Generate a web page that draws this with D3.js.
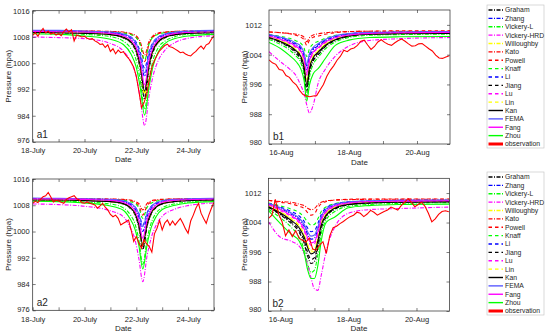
<!DOCTYPE html>
<html>
<head>
<meta charset="utf-8">
<script src="https://d3js.org/d3.v7.min.js"></script>
<style>
  body { margin: 0; background: #fff; }
  text { font-family: "Liberation Sans", Arial, sans-serif; fill: #262626; }
</style>
</head>
<body>
<script>
// series names in legend order, observation last
var names = ["Graham", "Zhang", "Vickery-L", "Vickery-HRD", "Willoughby", "Kato", "Powell", "Knaff",
             "Li", "Jiang", "Lu", "Lin", "Kan", "FEMA", "Fang", "Zhou", "observation"];

// time axes (days since 18-July 00:00 for a, since 16-Aug 00:00 for b)
var tA1 = [0, 1, 2, 3, 3.5, 3.8, 4.0, 4.15, 4.32, 4.5, 4.65, 4.85, 5.1, 5.5, 6, 7];
var tA2 = [0, 1, 2, 3, 3.5, 3.75, 3.95, 4.1, 4.25, 4.42, 4.57, 4.77, 5.0, 5.45, 6, 7];
var tB1 = [-0.35, 0, 0.25, 0.45, 0.58, 0.68, 0.76, 0.84, 0.95, 1.1, 1.3, 1.6, 2.0, 2.6, 3.5, 4.97];
var tB2 = [-0.35, 0, 0.3, 0.55, 0.7, 0.8, 0.9, 1.0, 1.1, 1.2, 1.35, 1.6, 2.0, 2.6, 3.5, 4.97];

var aTicks = [0, 1, 2, 3, 4, 5, 6, 7];
var aTickLabels = ["18-July", "", "20-July", "", "22-July", "", "24-July", ""];
var bTicks = [0, 1, 2, 3, 4];
var bTickLabels = ["16-Aug", "", "18-Aug", "", "20-Aug"];
var aPressTicks = [976, 984, 992, 1000, 1008, 1016];
var bPressTicks = [980, 988, 996, 1004, 1012];

// model pressures, one row per model in legend order
var a1Models = [
  [1009.5,1009.4,1009.2,1008.7,1007.7,1006.1,1003.2,998.1,989.0,998.7,1003.4,1006.3,1007.7,1008.7,1009.1,1009.4],
  [1009.7,1009.7,1009.5,1009.2,1008.6,1007.5,1005.5,1002.1,996.0,1002.5,1005.7,1007.6,1008.6,1009.2,1009.5,1009.7],
  [1009.3,1009.2,1008.8,1008.1,1006.7,1004.3,1000.8,994.9,986.0,995.4,1001.0,1004.8,1006.7,1008.1,1008.8,1009.2],
  [1008.0,1007.8,1007.5,1006.0,1003.7,1000.2,995.9,989.3,981.0,990.4,996.2,1000.9,1003.9,1006.3,1007.6,1008.4],
  [1009.5,1009.4,1009.2,1008.8,1007.9,1006.4,1003.8,999.2,991.0,999.7,1004.0,1006.6,1007.9,1008.8,1009.2,1009.4],
  [1009.9,1009.8,1009.8,1009.7,1009.5,1009.0,1008.3,1006.6,1002.5,1006.8,1008.4,1009.2,1009.5,1009.7,1009.8,1009.9],
  [1009.9,1009.8,1009.8,1009.6,1009.3,1008.8,1007.8,1005.7,1000.5,1006.0,1008.0,1009.0,1009.4,1009.7,1009.8,1009.9],
  [1009.7,1009.6,1009.6,1009.4,1009.2,1008.7,1007.8,1005.8,1001.0,1006.0,1008.0,1008.8,1009.3,1009.5,1009.6,1009.7],
  [1009.7,1009.7,1009.6,1009.3,1008.8,1007.9,1006.3,1003.5,998.5,1003.8,1006.4,1008.0,1008.8,1009.3,1009.6,1009.7],
  [1009.5,1009.4,1009.2,1008.7,1007.8,1006.3,1003.5,998.6,990.0,999.2,1003.7,1006.5,1007.8,1008.7,1009.2,1009.4],
  [1009.4,1009.3,1009.2,1008.7,1008.0,1006.6,1004.2,1000.0,992.5,1000.5,1004.4,1006.8,1008.0,1008.7,1009.1,1009.3],
  [1009.5,1009.4,1009.2,1008.7,1007.9,1006.4,1003.7,998.9,990.5,999.5,1003.9,1006.5,1007.9,1008.7,1009.2,1009.4],
  [1009.4,1009.3,1009.1,1008.7,1007.9,1006.4,1003.9,999.4,991.5,1000.0,1004.1,1006.6,1007.9,1008.7,1009.1,1009.3],
  [1010.0,1010.0,1009.8,1009.5,1008.9,1007.9,1006.0,1002.8,997.0,1003.2,1006.2,1008.0,1008.9,1009.5,1009.8,1010.0],
  [1009.7,1009.6,1009.5,1009.1,1008.3,1007.0,1004.7,1000.7,993.5,1001.2,1004.9,1007.2,1008.3,1009.1,1009.4,1009.6],
  [1009.0,1008.8,1008.3,1007.3,1005.7,1002.7,998.7,992.7,984.2,993.2,999.2,1003.5,1006.0,1007.5,1008.3,1008.8]
];
var a2Models = [
  [1009.7,1009.6,1009.5,1009.1,1008.4,1007.2,1005.1,1001.2,994.5,1001.7,1005.2,1007.4,1008.4,1009.1,1009.5,1009.6],
  [1010.0,1009.9,1009.8,1009.6,1009.1,1008.3,1006.9,1004.4,1000.0,1004.7,1007.0,1008.4,1009.1,1009.6,1009.8,1009.9],
  [1009.5,1009.3,1009.0,1008.4,1007.2,1005.3,1002.3,997.4,990.0,997.8,1002.5,1005.7,1007.2,1008.4,1009.0,1009.4],
  [1008.4,1008.2,1007.7,1006.3,1004.5,1001.4,997.5,991.7,984.7,992.8,997.9,1002.0,1004.6,1006.7,1007.9,1008.7],
  [1009.7,1009.7,1009.5,1009.2,1008.5,1007.4,1005.4,1001.8,995.5,1002.2,1005.5,1007.5,1008.5,1009.2,1009.5,1009.7],
  [1010.0,1010.0,1010.0,1009.9,1009.8,1009.6,1009.2,1008.5,1006.6,1008.6,1009.3,1009.7,1009.8,1009.9,1010.0,1010.0],
  [1010.0,1010.0,1009.9,1009.8,1009.7,1009.4,1008.9,1007.8,1005.0,1007.9,1009.0,1009.5,1009.7,1009.9,1009.9,1010.0],
  [1009.8,1009.8,1009.7,1009.6,1009.5,1009.1,1008.5,1007.2,1004.0,1007.4,1008.6,1009.2,1009.5,1009.7,1009.7,1009.8],
  [1010.0,1009.9,1009.8,1009.6,1009.3,1008.6,1007.5,1005.5,1002.0,1005.8,1007.6,1008.7,1009.3,1009.6,1009.8,1009.9],
  [1009.7,1009.7,1009.5,1009.1,1008.5,1007.3,1005.2,1001.5,995.0,1002.0,1005.4,1007.4,1008.5,1009.1,1009.5,1009.7],
  [1009.6,1009.6,1009.4,1009.1,1008.6,1007.5,1005.8,1002.6,997.0,1003.0,1005.9,1007.7,1008.6,1009.1,1009.4,1009.6],
  [1009.7,1009.6,1009.5,1009.1,1008.5,1007.4,1005.4,1001.9,995.8,1002.3,1005.5,1007.5,1008.5,1009.1,1009.5,1009.7],
  [1009.6,1009.6,1009.4,1009.1,1008.5,1007.4,1005.5,1002.0,996.0,1002.4,1005.6,1007.5,1008.5,1009.1,1009.4,1009.6],
  [1010.2,1010.1,1010.0,1009.8,1009.4,1008.7,1007.5,1005.3,1001.5,1005.6,1007.6,1008.8,1009.4,1009.8,1010.0,1010.1],
  [1009.9,1009.9,1009.8,1009.5,1008.9,1008.0,1006.3,1003.3,998.0,1003.6,1006.4,1008.1,1008.9,1009.5,1009.7,1009.9],
  [1009.2,1009.1,1008.7,1007.8,1006.5,1004.0,1000.7,995.7,988.6,996.1,1001.1,1004.6,1006.7,1007.9,1008.7,1009.1]
];
var b1Models = [
  [1008.5,1007.2,1005.9,1004.3,1002.7,999.6,994.0,999.1,1002.3,1004.0,1006.1,1007.8,1008.9,1009.5,1009.7,1009.8],
  [1009.2,1008.4,1007.6,1006.6,1005.6,1003.5,1000.0,1003.2,1005.3,1006.4,1007.7,1008.8,1009.5,1009.8,1010.0,1010.1],
  [1008.1,1006.7,1005.3,1003.6,1001.9,998.5,992.5,998.0,1001.4,1003.3,1005.5,1007.4,1008.6,1009.2,1009.4,1009.5],
  [1004.8,1002.0,1000.2,998.3,995.8,993.5,990.5,988.3,990.5,996.5,1000.0,1003.6,1006.3,1007.8,1008.3,1008.6],
  [1008.7,1007.7,1006.7,1005.4,1004.1,1001.5,997.0,1001.1,1003.7,1005.1,1006.8,1008.2,1009.1,1009.6,1009.7,1009.8],
  [1010.1,1009.9,1009.7,1009.5,1009.2,1008.7,1007.5,1008.6,1009.3,1009.6,1009.9,1010.1,1010.2,1010.3,1010.3,1010.3],
  [1010.1,1009.9,1009.6,1009.2,1008.7,1008.0,1006.5,1007.9,1008.7,1009.0,1009.5,1009.9,1010.2,1010.3,1010.4,1010.4],
  [1009.4,1008.9,1008.4,1007.7,1007.1,1005.8,1003.5,1005.6,1006.9,1007.6,1008.4,1009.2,1009.6,1009.8,1009.9,1010.0],
  [1009.3,1008.6,1007.8,1006.9,1006.0,1004.2,1001.0,1004.0,1005.7,1006.7,1007.9,1008.9,1009.6,1009.9,1010.0,1010.1],
  [1008.6,1007.4,1006.2,1004.7,1003.2,1000.2,995.0,999.8,1002.7,1004.4,1006.3,1008.0,1009.0,1009.5,1009.7,1009.8],
  [1008.9,1008.0,1007.0,1005.9,1004.8,1002.5,998.5,1002.1,1004.4,1005.7,1007.2,1008.4,1009.2,1009.6,1009.8,1009.9],
  [1008.7,1007.6,1006.5,1005.2,1003.9,1001.2,996.5,1000.8,1003.5,1005.0,1006.7,1008.2,1009.1,1009.6,1009.7,1009.8],
  [1008.6,1007.5,1006.4,1005.0,1003.6,1000.8,996.0,1000.4,1003.2,1004.7,1006.5,1008.0,1009.0,1009.5,1009.6,1009.7],
  [1009.4,1008.7,1008.0,1007.1,1006.3,1004.5,1001.5,1004.3,1006.0,1007.0,1008.1,1009.1,1009.7,1010.0,1010.1,1010.2],
  [1009.0,1008.1,1007.3,1006.2,1005.1,1002.9,999.0,1002.5,1004.7,1005.9,1007.4,1008.6,1009.3,1009.7,1009.9,1010.0],
  [1007.3,1005.6,1003.8,1002.1,1000.3,997.1,991.5,995.9,998.9,1000.3,1002.9,1006.5,1007.9,1008.6,1008.8,1008.9]
];
var b2Models = [
  [1008.1,1006.1,1003.9,1001.4,998.3,994.9,992.9,993.4,997.1,1002.2,1005.6,1007.6,1008.8,1009.3,1009.5,1009.7],
  [1009.0,1007.8,1006.4,1004.8,1002.9,1000.8,999.5,999.8,1002.1,1005.3,1007.5,1008.7,1009.5,1009.8,1009.9,1010.0],
  [1007.6,1005.3,1002.9,1000.0,996.6,992.8,990.5,991.1,995.3,1001.0,1004.8,1007.0,1008.4,1008.9,1009.2,1009.4],
  [1004.2,1000.0,999.0,997.6,995.5,992.5,989.0,986.0,985.6,989.7,996.5,1002.8,1006.5,1007.5,1007.8,1008.2],
  [1008.6,1006.9,1005.2,1003.2,1000.8,998.1,996.5,996.9,999.9,1003.9,1006.5,1008.2,1009.1,1009.5,1009.7,1009.8],
  [1010.0,1009.7,1009.5,1009.0,1008.6,1007.9,1007.5,1007.8,1008.8,1009.5,1009.9,1010.1,1010.2,1010.3,1010.3,1010.3],
  [1010.0,1009.5,1009.1,1008.4,1007.8,1006.7,1006.0,1006.4,1008.0,1009.1,1009.7,1010.1,1010.3,1010.4,1010.4,1010.4],
  [1009.3,1008.5,1007.7,1006.7,1005.4,1004.1,1003.3,1003.5,1005.0,1007.0,1008.3,1009.1,1009.6,1009.8,1009.9,1010.0],
  [1009.2,1008.2,1007.1,1005.8,1004.3,1002.5,1001.5,1001.8,1003.7,1006.2,1008.0,1009.0,1009.6,1009.8,1010.0,1010.0],
  [1008.2,1006.3,1004.3,1001.9,999.1,995.9,994.0,994.5,998.0,1003.0,1005.9,1007.7,1008.9,1009.3,1009.6,1009.7],
  [1008.7,1007.2,1005.7,1003.9,1001.7,999.3,997.8,998.2,1000.8,1004.5,1006.9,1008.3,1009.2,1009.5,1009.7,1009.8],
  [1008.5,1006.8,1005.0,1002.9,1000.4,997.7,996.0,996.4,999.5,1003.6,1006.4,1008.1,1009.1,1009.5,1009.7,1009.8],
  [1008.3,1006.6,1004.7,1002.6,1000.0,997.2,995.5,995.9,999.0,1003.3,1006.1,1007.9,1008.9,1009.3,1009.5,1009.6],
  [1009.2,1008.0,1006.7,1005.2,1003.5,1001.5,1000.3,1000.6,1002.8,1005.7,1007.7,1008.9,1009.6,1009.9,1010.0,1010.1],
  [1008.9,1007.5,1006.0,1004.3,1002.2,999.9,998.5,998.8,1001.4,1004.8,1007.1,1008.5,1009.3,1009.7,1009.8,1009.9],
  [1007.2,1003.7,1001.0,999.0,995.7,991.2,988.8,988.8,992.3,999.0,1004.1,1005.5,1008.0,1008.6,1008.9,1009.0]
];

// observed pressure every 0.1 day from the panel start
var a1Obs = [1008.5,1009.3,1008.2,1009.6,1010.6,1009.2,1009.8,1008.9,1009.3,1008.6,
  1009.0,1008.4,1009.6,1010.4,1009.5,1010.2,1006.8,1008.6,1008.3,1008.0,
  1008.2,1007.6,1007.3,1007.5,1006.8,1006.4,1005.7,1005.9,1004.8,1005.6,
  1003.6,1004.4,1002.9,1004.0,1003.2,1003.5,1002.4,1001.5,1000.3,998.8,
  996.0,991.5,986.5,988.0,990.5,995.0,998.8,1000.8,1002.4,1003.8,
  1004.6,1005.4,1005.8,1005.0,1004.8,1004.3,1003.8,1003.2,1003.4,1002.8,
  1002.4,1002.2,1003.0,1003.6,1004.5,1005.2,1004.3,1005.6,1006.0,1007.3,1008.4];
var a2Obs = [1008.6,1009.2,1008.8,1009.8,1010.6,1010.9,1011.9,1010.5,1009.0,1009.5,
  1009.3,1008.9,1008.6,1009.8,1010.3,1010.6,1010.9,1010.0,1009.6,1008.8,
  1008.6,1009.0,1008.6,1008.4,1008.1,1007.1,1007.8,1008.6,1007.4,1006.6,
  1005.2,1004.5,1005.0,1004.0,1002.0,1002.5,1003.0,1003.5,1000.5,997.0,
  998.5,996.5,994.9,997.5,996.2,995.4,993.7,999.3,1001.0,1003.4,
  1000.5,1002.6,1003.5,1001.9,1003.2,1002.0,1003.0,1004.0,1002.5,1000.8,
  999.5,1003.2,1005.0,1007.1,1008.6,1005.6,1004.0,1002.5,1005.0,1007.1,1008.9];
var b1Obs = [1002.6,1001.8,1001.4,1000.0,999.8,998.4,997.9,996.7,995.9,994.4,
  993.3,992.9,992.7,992.9,993.0,994.5,996.0,998.2,999.8,1001.0,
  1002.5,1003.6,1005.2,1004.8,1005.5,1005.8,1006.5,1007.6,1007.9,1006.6,
  1005.4,1006.2,1007.4,1008.0,1007.3,1006.8,1006.5,1007.2,1007.8,1008.2,
  1007.6,1006.9,1006.3,1006.4,1006.9,1007.0,1006.3,1005.6,1005.0,1003.9,
  1003.1,1003.0,1003.4,1003.7];
var b2Obs = [1005.1,1006.0,1010.3,1006.2,1004.2,1000.4,1002.0,1000.2,1001.8,999.7,
  999.2,998.7,999.8,996.8,996.5,997.9,998.8,995.6,1000.4,1002.6,
  1003.0,1003.7,1004.3,1005.0,1005.6,1006.0,1006.8,1006.5,1005.6,1006.3,
  1007.3,1006.8,1006.0,1006.5,1007.0,1007.4,1008.2,1007.8,1007.4,1008.6,
  1009.5,1010.5,1009.5,1008.3,1008.9,1009.5,1008.4,1006.5,1004.2,1005.0,
  1006.2,1007.0,1007.2,1006.9];

// line styles
var colors = ["#000000", "#0000ff", "#00ff00", "#ff00ff", "#ffff00", "#ff0000", "#ff0000", "#00ff00",
              "#0000ff", "#000000", "#ff00ff", "#ffff00", "#000000", "#5b5bff", "#ff00ff", "#00ff00", "#ff0000"];
var dashDot = "4,1.5,1,1.5", dashed = "3.5,3";
var dashes = [dashDot, dashDot, dashDot, dashDot, dashDot, dashDot, dashed, dashed,
              dashed, dashed, dashed, dashed, null, null, null, null, null];

var svg = d3.select("body").append("svg")
  .attr("width", 550)
  .attr("height", 336);

var panels = [
  {id: "a1", x: 32.7, y: 10.7, w: 181.3, h: 131.3, t: tA1, models: a1Models, obs: a1Obs, obsStart: 0,
   xDom: [0, 7], yDom: [976, 1016], xt: aTicks, xl: aTickLabels, yt: aPressTicks, ypad: 3, ylabX: 8},
  {id: "b1", x: 269, y: 10, w: 181, h: 134, t: tB1, models: b1Models, obs: b1Obs, obsStart: -0.35,
   xDom: [-0.35, 4.97], yDom: [980, 1016], xt: bTicks, xl: bTickLabels, yt: bPressTicks, ypad: 7, ylabX: 244},
  {id: "a2", x: 32.7, y: 179, w: 181.3, h: 131.3, t: tA2, models: a2Models, obs: a2Obs, obsStart: 0,
   xDom: [0, 7], yDom: [976, 1016], xt: aTicks, xl: aTickLabels, yt: aPressTicks, ypad: 3, ylabX: 8},
  {id: "b2", x: 268.5, y: 178.3, w: 181, h: 132.7, t: tB2, models: b2Models, obs: b2Obs, obsStart: -0.35,
   xDom: [-0.35, 4.97], yDom: [980, 1016], xt: bTicks, xl: bTickLabels, yt: bPressTicks, ypad: 7, ylabX: 244}
];

panels.forEach(function (p) {
  var g = svg.append("g").attr("transform", "translate(" + p.x + "," + p.y + ")");
  var x = d3.scaleLinear().domain(p.xDom).range([0, p.w]);
  var y = d3.scaleLinear().domain(p.yDom).range([p.h, 0]);

  g.append("clipPath").attr("id", "clip-" + p.id)
    .append("rect").attr("width", p.w).attr("height", p.h);

  var plot = g.append("g").attr("clip-path", "url(#clip-" + p.id + ")");

  var line = d3.line()
    .x(function (d) { return x(d[0]); })
    .y(function (d) { return y(d[1]); })
    .curve(d3.curveMonotoneX);

  p.models.forEach(function (vals, i) {
    plot.append("path")
      .datum(vals.map(function (v, k) { return [p.t[k], v]; }))
      .attr("d", line)
      .attr("fill", "none")
      .attr("stroke", colors[i])
      .attr("stroke-width", 1.1)
      .attr("stroke-dasharray", dashes[i]);
  });

  // observation on top
  var obsLine = d3.line()
    .x(function (d) { return x(d[0]); })
    .y(function (d) { return y(d[1]); });
  plot.append("path")
    .datum(p.obs.map(function (v, k) { return [p.obsStart + k * 0.1, v]; }))
    .attr("d", obsLine)
    .attr("fill", "none")
    .attr("stroke", "#ff0000")
    .attr("stroke-width", 1.1);

  // axes with inward ticks on all four sides
  var xb = g.append("g").attr("transform", "translate(0," + p.h + ")")
    .call(d3.axisBottom(x).tickValues(p.xt).tickSize(-3).tickPadding(6)
      .tickFormat(function (d, i) { return p.xl[i]; }));
  var xt = g.append("g")
    .call(d3.axisTop(x).tickValues(p.xt).tickSize(-3).tickFormat(""));
  var yl = g.append("g")
    .call(d3.axisLeft(y).tickValues(p.yt).tickSize(-3).tickPadding(p.ypad).tickFormat(d3.format("d")));
  var yr = g.append("g").attr("transform", "translate(" + p.w + ",0)")
    .call(d3.axisRight(y).tickValues(p.yt).tickSize(-3).tickFormat(""));

  [xb, xt, yl, yr].forEach(function (a) {
    a.select(".domain").remove();
    a.selectAll("line").attr("stroke", "#262626").attr("stroke-width", 0.6);
    a.selectAll("text").style("font-family", "Liberation Sans, Arial, sans-serif")
      .attr("font-size", 7.5).attr("fill", "#262626");
  });
  // lowest pressure label sits just above the date labels
  yl.selectAll(".tick text").filter(function (d) { return d === p.yDom[0]; }).attr("dy", "0.1em");

  g.append("rect")
    .attr("width", p.w).attr("height", p.h)
    .attr("fill", "none").attr("stroke", "#262626").attr("stroke-width", 0.7);

  g.append("text")
    .attr("x", 4).attr("y", p.h - 4)
    .attr("font-size", 10)
    .text(p.id);

  g.append("text")
    .attr("x", p.w / 2).attr("y", p.h + 20.5)
    .attr("text-anchor", "middle").attr("font-size", 8)
    .text("Date");

  svg.append("text")
    .attr("transform", "translate(" + (p.ylabX + 3) + "," + (p.y + p.h / 2) + ") rotate(-90)")
    .attr("text-anchor", "middle").attr("font-size", 8)
    .text("Pressure (hpa)");
});

// legends, one beside each row of panels
[5, 172].forEach(function (top) {
  var lg = svg.append("g").attr("transform", "translate(487," + top + ")");
  lg.append("rect")
    .attr("width", 57).attr("height", 143)
    .attr("fill", "#fff").attr("stroke", "#c8c8c8").attr("stroke-width", 0.7);
  var step = 8.375;
  names.forEach(function (n, i) {
    var cy = 5 + i * step;
    lg.append("line")
      .attr("x1", 1.5).attr("x2", 16).attr("y1", cy).attr("y2", cy)
      .attr("stroke", colors[i])
      .attr("stroke-width", n === "observation" ? 3 : 1.4)
      .attr("stroke-dasharray", dashes[i]);
    lg.append("text")
      .attr("x", 18).attr("y", cy + 2.4)
      .attr("font-size", 6.8)
      .text(n);
  });
});
</script>
</body>
</html>
